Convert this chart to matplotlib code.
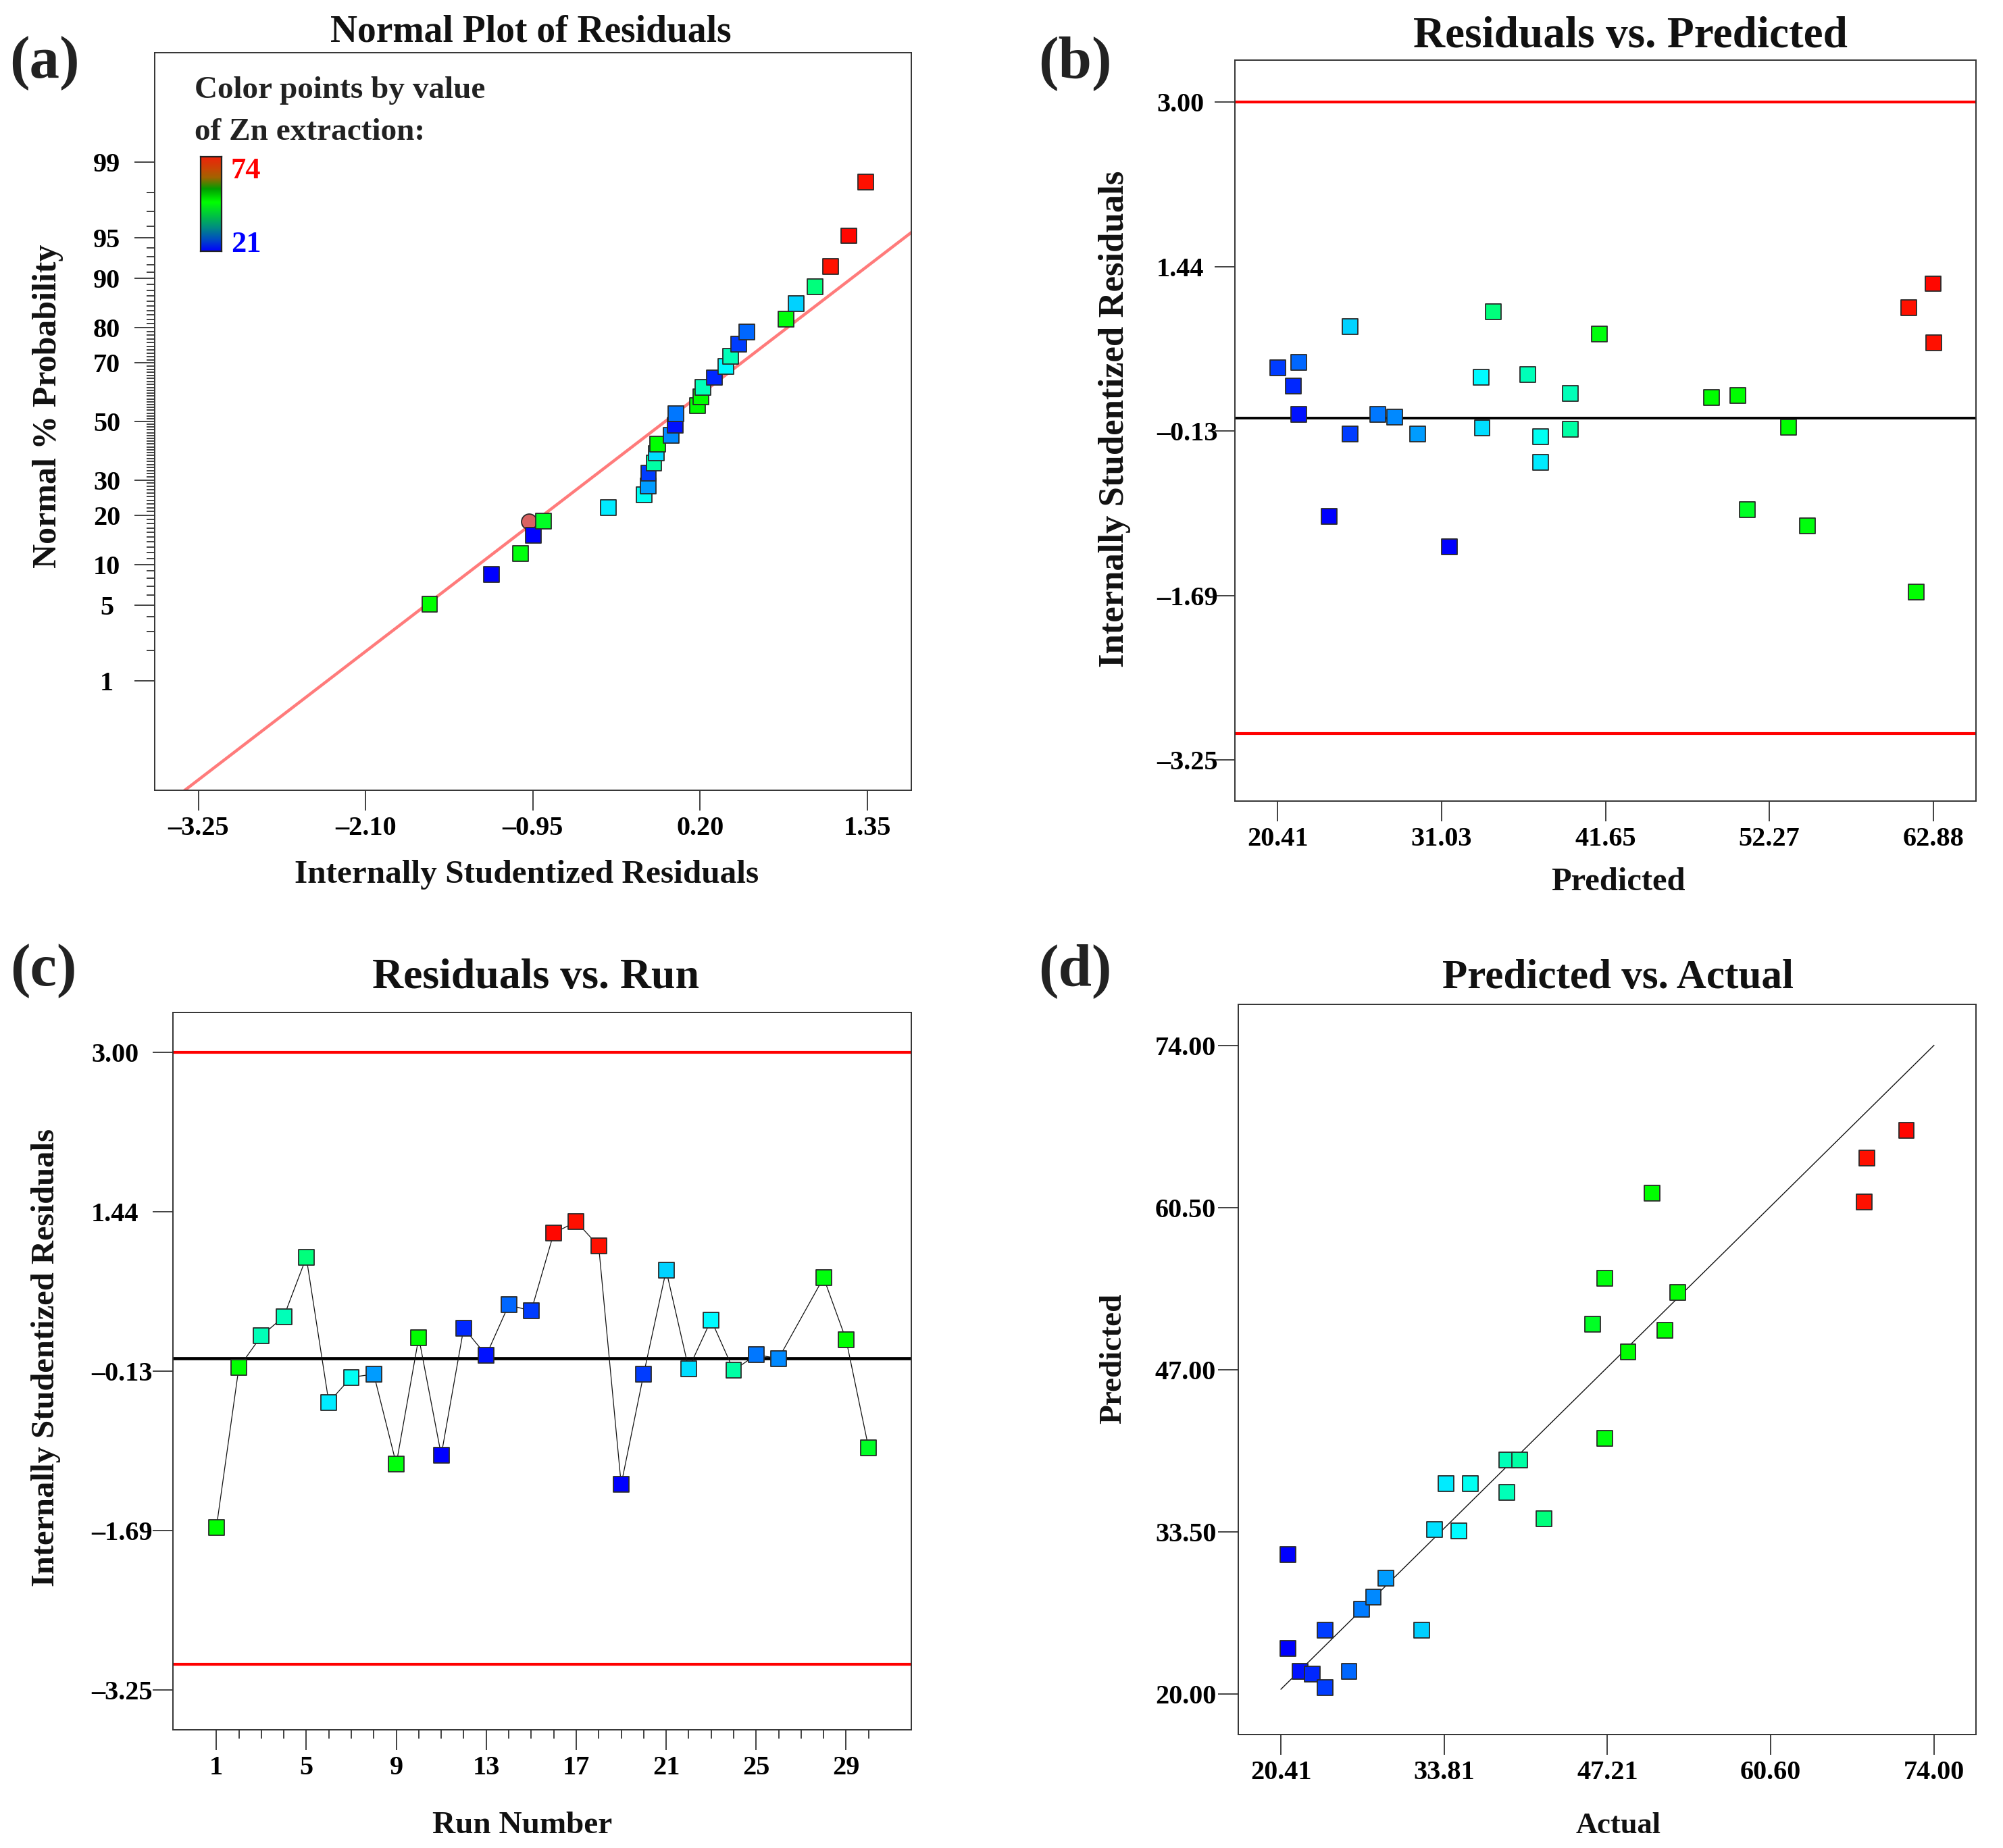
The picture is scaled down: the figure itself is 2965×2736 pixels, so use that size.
import math
import numpy as np
import matplotlib
matplotlib.use("Agg")
import matplotlib.pyplot as plt
from matplotlib.colors import LinearSegmentedColormap, Normalize
from matplotlib.ticker import FixedLocator

plt.rcParams['font.family'] = ['Liberation Serif', 'DejaVu Serif']
plt.rcParams['font.weight'] = 'bold'

# ---------------- data ----------------
# residuals vs run (panel c, also used for the normal plot in panel a)
runs = [1, 2, 3, 4, 5, 6, 7, 8, 9, 10, 11, 12, 13, 14, 15, 16, 17, 18, 19, 20,
        21, 22, 23, 24, 25, 26, 28, 29, 30]
resid_run = [-1.66, -0.09, 0.22, 0.41, 0.99, -0.43, -0.185, -0.155, -1.035, 0.205,
             -0.948, 0.298, 0.03, 0.524, 0.465, 1.226, 1.341, 1.10, -1.236, -0.154,
             0.863, -0.10, 0.377, -0.117, 0.035, 0.0, 0.791, 0.183, -0.876]
zn_run = [51, 53, 39, 39, 42, 34, 36, 29, 47, 52, 21, 23, 22, 26, 24, 71.7, 68.5, 68.3,
          21, 24, 32, 33, 35, 40, 27, 28, 47, 49, 46]

# normal % probability of the sorted residuals (panel a)
prob_pct = [5.1, 8.5, 11.8, 15.4, 18.6, 22.0, 25.5, 28.1, 32.2, 35.5, 38.8, 42.0, 45.1,
            48.6, 52.7, 55.6, 58.8, 62.0, 65.3, 68.9, 72.1, 75.5, 78.9, 82.0, 85.4,
            88.6, 91.8, 95.2, 98.4]
flag_resid = -0.975
flag_prob = 18.5
fit_slope = 1.0
fit_intercept = 0.04

# residuals vs predicted (panel b)
pred_b = [20.41, 21.44, 21.77, 21.77, 23.75, 25.11, 25.11, 26.89, 28.00, 29.49, 31.55,
          33.58, 33.66, 34.40, 36.63, 37.45, 37.45, 39.35, 39.35, 41.25, 48.51, 50.21,
          50.83, 53.51, 54.71, 61.31, 62.88, 62.92, 61.76]
resid_b = [0.474, 0.304, 0.529, 0.035, -0.937, 0.869, -0.152, 0.035, 0.007, -0.152,
           -1.223, 0.386, -0.097, 1.012, 0.413, -0.180, -0.421, 0.232, -0.108, 0.798,
           0.194, 0.216, -0.871, -0.086, -1.025, 1.050, 1.276, 0.716, -1.651]
zn_b = [24, 23, 26, 22, 21, 32, 24, 27, 28, 29, 21, 35, 33, 42, 39, 36, 34, 39, 40, 47,
        49, 52, 46, 53, 47, 68.3, 71.7, 68.5, 51]

# predicted vs actual (panel d); colour = actual Zn extraction
actual_d = [20.99, 20.99, 21.98, 22.97, 24.02, 24.02, 26.00, 27.05, 28.00, 29.04, 31.96,
            33.01, 33.95, 34.99, 35.93, 38.97, 40.01, 38.97, 42.00, 45.97, 46.97, 46.97,
            48.90, 50.89, 51.93, 52.98, 68.29, 68.50, 71.74]
pred_d = [31.62, 23.81, 21.90, 21.65, 20.55, 25.31, 21.90, 27.06, 28.07, 29.67, 25.31,
          33.68, 37.54, 33.58, 37.54, 39.49, 39.49, 36.78, 34.58, 50.81, 54.62, 41.29,
          48.51, 61.68, 50.26, 53.42, 60.98, 64.64, 66.94]

zn_min, zn_max = 21, 74
limit = 3.0

# ticks
a_xticks = [-3.25, -2.10, -0.95, 0.20, 1.35]
a_xlabels = ['\u20133.25', '\u20132.10', '\u20130.95', '0.20', '1.35']
a_prob_major = [1, 5, 10, 20, 30, 50, 70, 80, 90, 95, 99]
res_ticks = [-3.25, -1.6875, -0.125, 1.4375, 3.0]
res_labels = ['\u20133.25', '\u20131.69', '\u20130.13', '1.44', '3.00']
b_xticks = [20.41, 31.0275, 41.645, 52.2625, 62.88]
b_xlabels = ['20.41', '31.03', '41.65', '52.27', '62.88']
c_major = [1, 5, 9, 13, 17, 21, 25, 29]
d_xticks = [20.41, 33.8075, 47.205, 60.6025, 74.0]
d_xlabels = ['20.41', '33.81', '47.21', '60.60', '74.00']
d_yticks = [20.0, 33.5, 47.0, 60.5, 74.0]
d_ylabels = ['20.00', '33.50', '47.00', '60.50', '74.00']


def norm_ppf(p):
    lo, hi = -10.0, 10.0
    for _ in range(80):
        mid = 0.5 * (lo + hi)
        if 0.5 * (1 + math.erf(mid / math.sqrt(2))) < p:
            lo = mid
        else:
            hi = mid
    return 0.5 * (lo + hi)


def z_of(pcts):
    return [norm_ppf(p / 100.0) for p in pcts]


# point colours
cmap = LinearSegmentedColormap.from_list('de', [
    (0.00, (0.0, 0.0, 1.0)),
    (0.10, (0.0, 0.43, 1.0)),
    (0.20, (0.0, 0.80, 1.0)),
    (0.27, (0.0, 1.0, 1.0)),
    (0.35, (0.0, 1.0, 0.67)),
    (0.42, (0.0, 1.0, 0.39)),
    (0.50, (0.0, 1.0, 0.0)),
    (0.62, (0.0, 1.0, 0.0)),
    (0.87, (1.0, 0.08, 0.0)),
    (1.00, (1.0, 0.0, 0.0))])
# the small key bar is drawn softer in the original
key_cmap = LinearSegmentedColormap.from_list('key', [
    (0.00, (0.0, 0.0, 1.0)),
    (0.13, (0.0, 0.31, 0.75)),
    (0.25, (0.0, 0.55, 0.51)),
    (0.37, (0.0, 0.75, 0.27)),
    (0.52, (0.0, 1.0, 0.0)),
    (0.66, (0.0, 0.62, 0.0)),
    (0.78, (0.63, 0.39, 0.0)),
    (0.88, (0.80, 0.27, 0.02)),
    (1.00, (0.93, 0.14, 0.04))])
norm = Normalize(zn_min, zn_max)

# ---------------- layout ----------------
W, H = 2965, 2736
fig = plt.figure(figsize=(W / 100, H / 100), dpi=100)


def box(l, t, r, b):
    return [l / W, 1 - b / H, (r - l) / W, (b - t) / H]


def ptext(x, y, s, size, **kw):
    kw.setdefault('ha', 'center')
    kw.setdefault('va', 'baseline')
    kw.setdefault('color', '#111111')
    fig.text(x / W, 1 - y / H, s, fontsize=size, fontweight='bold', **kw)


ax_a = fig.add_axes(box(229, 78, 1349, 1170))
ax_b = fig.add_axes(box(1828, 89, 2925, 1186))
ax_c = fig.add_axes(box(256, 1499, 1349, 2561))
ax_d = fig.add_axes(box(1833, 1487, 2925, 2568))

MS = 16.5
EDGE = '#2a2a2a'


def style(ax, ypad, yha):
    for sp in ax.spines.values():
        sp.set_linewidth(1.4)
        sp.set_color('#333333')
    ax.tick_params(which='major', length=21.6, width=1.3, color='#333333',
                   direction='out', labelsize=29)
    ax.tick_params(which='minor', length=9, width=1.3, color='#333333', direction='out')
    ax.tick_params(axis='x', pad=6)
    ax.tick_params(axis='y', pad=ypad)
    for lab in ax.get_yticklabels():
        lab.set_ha(yha)


def squares(ax, x, y, zn):
    ax.scatter(x, y, c=zn, cmap=cmap, norm=norm, marker='s', s=MS ** 2,
               edgecolors=EDGE, linewidths=1.3, zorder=3)


# ---- (a) normal plot ----
order = np.argsort(resid_run, kind='stable')
res_sorted = np.array(resid_run)[order]
zn_sorted = np.array(zn_run)[order]
xa = np.array([-3.552, 1.654])
ax_a.plot(xa, fit_slope * xa + fit_intercept, color='#ff7b7b', lw=3.2, zorder=1)
ax_a.scatter([flag_resid], z_of([flag_prob]), marker='o', s=MS ** 2, color='#d96262',
             edgecolors=EDGE, linewidths=1.3, zorder=2)
squares(ax_a, res_sorted, z_of(prob_pct), zn_sorted)
ax_a.set_xlim(-3.552, 1.654)
ax_a.set_ylim(-3.305, 3.305)
ax_a.set_xticks(a_xticks, a_xlabels)
ax_a.set_yticks(z_of(a_prob_major), [str(p) for p in a_prob_major])
ax_a.yaxis.set_minor_locator(FixedLocator(z_of([p for p in range(1, 100) if p not in a_prob_major])))
style(ax_a, 29.5, 'center')

# colour key
cax = fig.add_axes(box(297, 232, 328, 372))
cax.imshow(np.linspace(zn_min, zn_max, 256)[:, None], cmap=key_cmap, norm=norm,
           aspect='auto', origin='lower')
cax.set_xticks([])
cax.set_yticks([])
for sp in cax.spines.values():
    sp.set_linewidth(1.6)
    sp.set_color('#222222')
ptext(288, 145, 'Color points by value', 34, ha='left', color='#222222')
ptext(288, 207, 'of Zn extraction:', 34, ha='left', color='#222222')
ptext(342, 264, str(zn_max), 32, ha='left', color='#ff0000')
ptext(342, 373, str(zn_min), 32, ha='left', color='#0000ff')

# ---- (b) residuals vs predicted ----
ax_b.axhline(limit, color='#ff0000', lw=3.0, zorder=1)
ax_b.axhline(-limit, color='#ff0000', lw=3.0, zorder=1)
ax_b.axhline(0, color='#000000', lw=2.8, zorder=1)
squares(ax_b, pred_b, resid_b, zn_b)
ax_b.set_xlim(17.645, 65.645)
ax_b.set_ylim(-3.64, 3.40)
ax_b.set_xticks(b_xticks, b_xlabels)
ax_b.set_yticks(res_ticks, res_labels)
style(ax_b, 62, 'left')

# ---- (c) residuals vs run ----
ax_c.axhline(limit, color='#ff0000', lw=3.0, zorder=1)
ax_c.axhline(-limit, color='#ff0000', lw=3.0, zorder=1)
ax_c.axhline(0, color='#000000', lw=3.4, zorder=1)
ax_c.plot(runs, resid_run, color='#111111', lw=0.9, zorder=2)
squares(ax_c, runs, resid_run, zn_run)
ax_c.set_xlim(-0.93, 31.9)
ax_c.set_ylim(-3.64, 3.39)
ax_c.set_xticks(c_major, [str(r) for r in c_major])
ax_c.xaxis.set_minor_locator(FixedLocator(list(range(1, 31))))
ax_c.set_yticks(res_ticks, res_labels)
style(ax_c, 65.5, 'left')

# ---- (d) predicted vs actual ----
ax_d.plot([d_xticks[0], d_xticks[-1]], [d_xticks[0], d_xticks[-1]], color='#111111',
          lw=1.0, zorder=1)
squares(ax_d, actual_d, pred_d, actual_d)
ax_d.set_xlim(16.91, 77.45)
ax_d.set_ylim(16.64, 77.41)
ax_d.set_xticks(d_xticks, d_xlabels)
ax_d.set_yticks(d_yticks, d_ylabels)
style(ax_d, 67, 'left')

# ---- titles, panel letters, axis labels ----
ptext(786, 62, 'Normal Plot of Residuals', 40)
ptext(2413, 70, 'Residuals vs. Predicted', 47)
ptext(793, 1463, 'Residuals vs. Run', 46)
ptext(2395, 1463, 'Predicted vs. Actual', 44)

for x, y, s in [(66, 94, '(a)'), (1591, 94, '(b)'), (64, 1438, '(c)'), (1591, 1438, '(d)')]:
    ptext(x, y, s, 64, va='center', color='#222222')

ptext(780, 1307, 'Internally Studentized Residuals', 35.5)
ptext(71, 601, 'Normal % Probability', 36, va='center', rotation=90)
ptext(2395, 1318, 'Predicted', 35)
ptext(1650, 620, 'Internally Studentized Residuals', 38, va='center', rotation=90)
ptext(773, 2714, 'Run Number', 34)
ptext(68, 2010, 'Internally Studentized Residuals', 35, va='center', rotation=90)
ptext(2396, 2714, 'Actual', 32)
ptext(1648, 2011, 'Predicted', 34, va='center', rotation=90)

fig.savefig('out.png', dpi=100, facecolor='white')
